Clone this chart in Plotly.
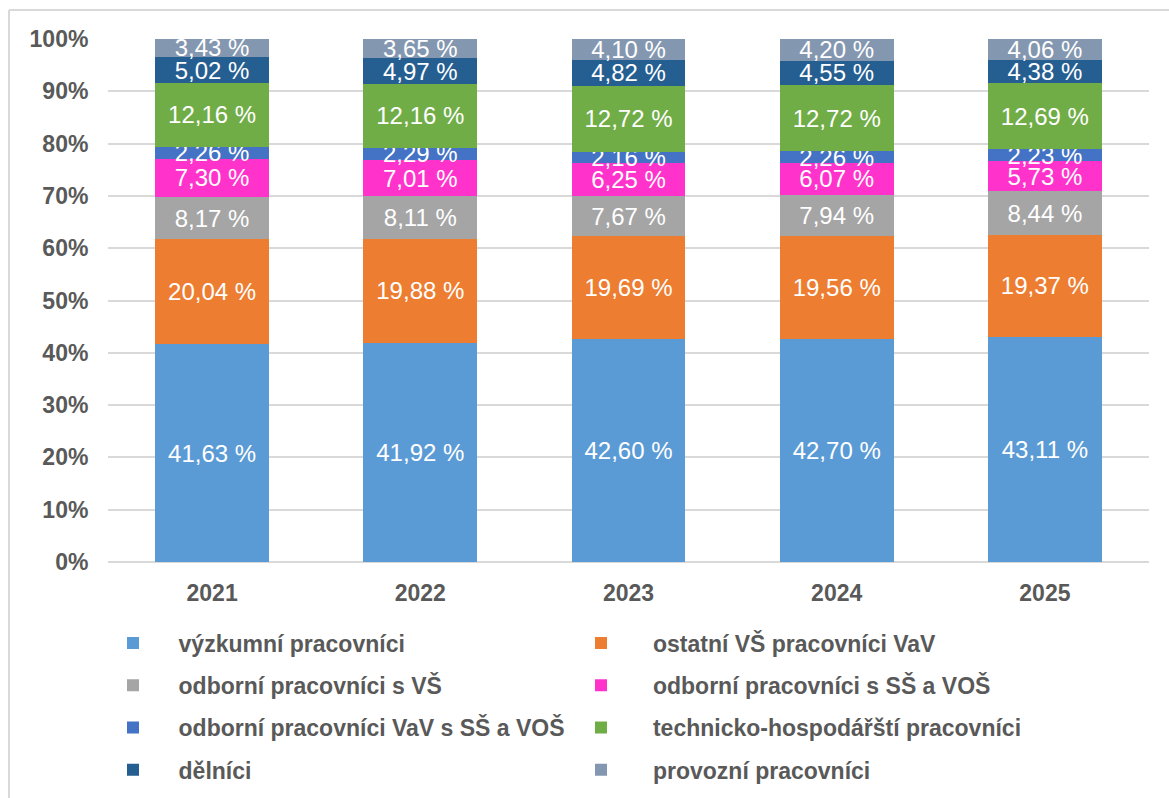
import plotly.graph_objects as go

years = ["2021", "2022", "2023", "2024", "2025"]

series_names = [
    "výzkumní pracovníci",
    "ostatní VŠ pracovníci VaV",
    "odborní pracovníci s VŠ",
    "odborní pracovníci s SŠ a VOŠ",
    "odborní pracovníci VaV s SŠ a VOŠ",
    "technicko-hospodářští pracovníci",
    "dělníci",
    "provozní pracovníci",
]

vyzkumni = [41.63, 41.92, 42.60, 42.70, 43.11]
ostatni_vs_vav = [20.04, 19.88, 19.69, 19.56, 19.37]
odborni_vs = [8.17, 8.11, 7.67, 7.94, 8.44]
odborni_ss_vos = [7.30, 7.01, 6.25, 6.07, 5.73]
odborni_vav_ss_vos = [2.26, 2.29, 2.16, 2.26, 2.23]
technicko_hosp = [12.16, 12.16, 12.72, 12.72, 12.69]
delnici = [5.02, 4.97, 4.82, 4.55, 4.38]
provozni = [3.43, 3.65, 4.10, 4.20, 4.06]

series_values = [vyzkumni, ostatni_vs_vav, odborni_vs, odborni_ss_vos,
                 odborni_vav_ss_vos, technicko_hosp, delnici, provozni]

colors = ["#5B9BD5", "#ED7D31", "#A5A5A5", "#FF33CC",
          "#4472C4", "#70AD47", "#255E91", "#8497B0"]

y_tickvals = [0, 10, 20, 30, 40, 50, 60, 70, 80, 90, 100]
y_ticktext = [f"{v}%" for v in y_tickvals]

FONT = "Liberation Sans, Arial, sans-serif"

fig = go.Figure()
for i, (name, vals, col) in enumerate(zip(series_names, series_values, colors)):
    pad = "\u00a0" * (4 if i % 2 == 0 else 5)
    fig.add_trace(go.Bar(
        x=years, y=vals, name=pad + name,
        marker=dict(color=col, line=dict(width=0)),
        text=[f"{v:.2f}".replace(".", ",") + " %" for v in vals],
        textposition="inside",
        insidetextanchor="middle",
        textangle=0,
        constraintext="none",
        textfont=dict(family=FONT, size=24, color="white"),
        hoverinfo="skip",
        legend="legend" if i % 2 == 0 else "legend2",
        legendgroup=f"g{i}",
    ))

# plot area geometry (pixels)
L, R, T, B = 108, 20, 39, 235.5
W, H = 1169, 798
pw = W - L - R
ph = H - T - B

def px_x(x):
    return (x - L) / pw

def px_y(y):
    return (H - B - y) / ph

legend_common = dict(
    orientation="v",
    traceorder="grouped",
    tracegroupgap=9.4,
    font=dict(family=FONT, size=23, color="#595959", weight="bold"),
    bgcolor="rgba(0,0,0,0)",
    xanchor="left", yanchor="top",
    itemclick=False, itemdoubleclick=False,
)

fig.update_layout(
    barmode="stack",
    bargap=0.454,
    width=W, height=H,
    margin=dict(l=L, r=R, t=T, b=B, pad=0, autoexpand=False),
    paper_bgcolor="white",
    plot_bgcolor="white",
    font=dict(family=FONT, color="#595959"),
    showlegend=True,
    legend=dict(x=px_x(113), y=px_y(622), **legend_common),
    legend2=dict(x=px_x(581), y=px_y(622), **legend_common),
    xaxis=dict(
        type="category",
        showgrid=False, showline=False, zeroline=False,
        ticks="outside", ticklen=10, tickcolor="rgba(0,0,0,0)",
        tickfont=dict(family=FONT, size=23, color="#595959", weight="bold"),
        fixedrange=True,
        automargin=False,
    ),
    yaxis=dict(
        range=[0, 100],
        tickvals=y_tickvals, ticktext=y_ticktext,
        showgrid=True, gridcolor="#D9D9D9", gridwidth=1.5,
        zeroline=True, zerolinecolor="#D9D9D9", zerolinewidth=1.5,
        showline=False,
        ticks="outside", ticklen=14, tickcolor="rgba(0,0,0,0)",
        tickfont=dict(family=FONT, size=23, color="#595959", weight="bold"),
        fixedrange=True,
        automargin=False,
    ),
    shapes=[
        dict(type="line", xref="paper", yref="paper",
             x0=px_x(9), x1=px_x(9), y0=px_y(10), y1=px_y(800),
             line=dict(color="#D9D9D9", width=2)),
        dict(type="line", xref="paper", yref="paper",
             x0=px_x(9), x1=px_x(1172), y0=px_y(10), y1=px_y(10),
             line=dict(color="#D9D9D9", width=2)),
    ],
)

fig.write_html(
    "out.html",
    config={"displayModeBar": False},
    post_script="document.body.style.margin='0';document.body.style.overflow='hidden';",
)
